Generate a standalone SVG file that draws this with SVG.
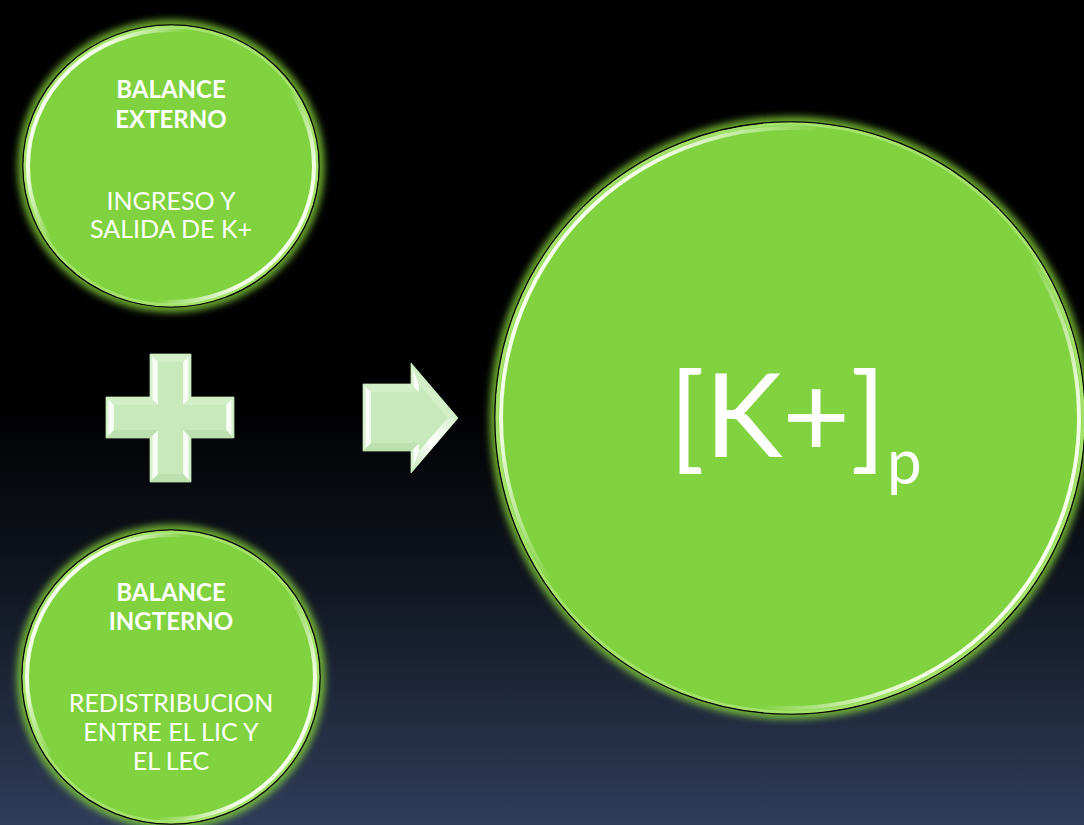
<svg xmlns="http://www.w3.org/2000/svg" width="1084" height="825" viewBox="0 0 1084 825">
  <defs>
    <linearGradient id="bg" x1="0" y1="0" x2="0" y2="1">
      <stop offset="0" stop-color="#000000"/>
      <stop offset="0.5" stop-color="#010102"/>
      <stop offset="0.7" stop-color="#10151f"/>
      <stop offset="1" stop-color="#2f3d5a"/>
    </linearGradient>
    <!-- glossy rim highlight: bright at upper-left and lower-right -->
    <linearGradient id="rim" x1="0" y1="0.2" x2="1" y2="0.8">
      <stop offset="0" stop-color="#ffffff" stop-opacity="1"/>
      <stop offset="0.14" stop-color="#f6ffea" stop-opacity="0.95"/>
      <stop offset="0.32" stop-color="#ffffff" stop-opacity="0"/>
      <stop offset="0.68" stop-color="#ffffff" stop-opacity="0"/>
      <stop offset="0.86" stop-color="#f6ffea" stop-opacity="0.95"/>
      <stop offset="1" stop-color="#ffffff" stop-opacity="1"/>
    </linearGradient>
    <linearGradient id="facetL" x1="0" y1="0" x2="1" y2="0">
      <stop offset="0" stop-color="#c9eabd"/>
      <stop offset="0.55" stop-color="#ffffff"/>
      <stop offset="1" stop-color="#eefae8"/>
    </linearGradient>
    <linearGradient id="facetR" x1="0" y1="0" x2="1" y2="0">
      <stop offset="0" stop-color="#eefae8"/>
      <stop offset="0.45" stop-color="#ffffff"/>
      <stop offset="1" stop-color="#c3e6b6"/>
    </linearGradient>
    <linearGradient id="facetD" x1="0" y1="1" x2="1" y2="0">
      <stop offset="0" stop-color="#c3e6b6"/>
      <stop offset="0.5" stop-color="#ffffff"/>
      <stop offset="1" stop-color="#d4f0c9"/>
    </linearGradient>
    <filter id="glow" x="-20%" y="-20%" width="140%" height="140%">
      <feGaussianBlur stdDeviation="3.5"/>
    </filter>
    <filter id="soft" x="-5%" y="-5%" width="110%" height="110%">
      <feGaussianBlur stdDeviation="0.6"/>
    </filter>
    <filter id="edge" x="-10%" y="-10%" width="120%" height="120%">
      <feGaussianBlur stdDeviation="0.5"/>
    </filter>
  </defs>
  <style>
    .halo { fill: none; stroke: #86d43a; stroke-width: 11; stroke-opacity: 0.8; filter: url(#glow); }
    .disc { fill: #80d23e; stroke: #000000; stroke-width: 1.6; }
    .band { fill: none; stroke: #a4e26c; stroke-width: 3; }
    .gloss { fill: none; stroke: url(#rim); stroke-width: 4; filter: url(#soft); }
    .lbl { font-family: Lato, "Open Sans", "Liberation Sans", sans-serif; fill: #ffffff; text-anchor: middle; }
    .head { font-size: 24px; font-weight: 700; }
    .body { font-size: 25px; font-weight: 400; }
    .big { font-family: Lato, "Open Sans", "Liberation Sans", sans-serif; fill: #ffffff; }
    .base { fill: #c7e9bb; stroke: #b5dba8; stroke-width: 0.8; }
    .fT { fill: #d2efc7; }
    .fB { fill: #bde0b0; }
    .fL { fill: url(#facetL); }
    .fR { fill: url(#facetR); }
    .fD { fill: url(#facetD); }
  </style>

  <rect x="0" y="0" width="1084" height="825" fill="url(#bg)"/>

  <!-- top node -->
  <g id="node-externo">
    <ellipse class="halo" cx="171" cy="166" rx="148" ry="141"/>
    <ellipse class="disc" cx="171" cy="166" rx="148" ry="141"/>
    <ellipse class="band" cx="171" cy="166" rx="146" ry="139"/>
    <ellipse class="gloss" cx="171" cy="166" rx="143" ry="136"/>
    <text class="lbl head" x="171" y="98">BALANCE</text>
    <text class="lbl head" x="171" y="128">EXTERNO</text>
    <text class="lbl body" x="171" y="210">INGRESO Y</text>
    <text class="lbl body" x="171" y="238">SALIDA DE K+</text>
  </g>

  <!-- bottom node -->
  <g id="node-interno">
    <ellipse class="halo" cx="171" cy="677" rx="149" ry="147"/>
    <ellipse class="disc" cx="171" cy="677" rx="149" ry="147"/>
    <ellipse class="band" cx="171" cy="677" rx="147" ry="145"/>
    <ellipse class="gloss" cx="171" cy="677" rx="144" ry="142"/>
    <text class="lbl head" x="171" y="601">BALANCE</text>
    <text class="lbl head" x="171" y="630">INGTERNO</text>
    <text class="lbl body" x="171" y="712">REDISTRIBUCION</text>
    <text class="lbl body" x="171" y="741">ENTRE EL LIC Y</text>
    <text class="lbl body" x="171" y="770">EL LEC</text>
  </g>

  <!-- result node -->
  <g id="node-potasio">
    <ellipse class="halo" cx="790" cy="418" rx="295" ry="296"/>
    <ellipse class="disc" cx="790" cy="418" rx="295" ry="296"/>
    <ellipse class="band" cx="790" cy="418" rx="293" ry="294"/>
    <ellipse class="gloss" cx="790" cy="418" rx="289" ry="290"/>
    <text class="big" x="669" y="457" font-size="117">[K+]<tspan x="887" y="484" font-size="62">p</tspan></text>
  </g>

  <!-- operators between the nodes -->
  <g id="connectors">
    <g id="plus" filter="url(#edge)">
      <polygon class="base" points="150,354 191,354 191,397 234,397 234,438 191,438 191,482 150,482 150,438 106,438 106,397 150,397"/>
      <polygon class="fT" points="150,354 191,354 183,362 158,362"/>
      <polygon class="fR" points="183,362 191,354 191,397 183,405"/>
      <polygon class="fT" points="191,397 234,397 226,405 183,405"/>
      <polygon class="fR" points="226,405 234,397 234,438 226,430"/>
      <polygon class="fB" points="234,438 191,438 183,430 226,430"/>
      <polygon class="fR" points="183,430 191,438 191,482 183,474"/>
      <polygon class="fB" points="191,482 150,482 158,474 183,474"/>
      <polygon class="fL" points="150,482 150,438 158,430 158,474"/>
      <polygon class="fB" points="150,438 106,438 114,430 158,430"/>
      <polygon class="fL" points="106,438 106,397 114,405 114,430"/>
      <polygon class="fT" points="106,397 150,397 158,405 114,405"/>
      <polygon class="fL" points="150,397 150,354 158,362 158,405"/>
    </g>
    <g id="arrow" filter="url(#edge)">
      <polygon class="base" points="363,384 411,384 411,363 458,418 411,473 411,451 363,451"/>
      <polygon class="fT" points="363,384 411,384 419,392 371,392"/>
      <polygon class="fL" points="411,384 411,363 419,384.7 419,392"/>
      <polygon class="fT" points="411,363 458,418 447.5,418 419,384.7"/>
      <polygon class="fD" points="458,418 411,473 419,451.3 447.5,418"/>
      <polygon class="fL" points="411,473 411,451 419,443 419,451.3"/>
      <polygon class="fB" points="411,451 363,451 371,443 419,443"/>
      <polygon class="fL" points="363,451 363,384 371,392 371,443"/>
    </g>
  </g>
</svg>
